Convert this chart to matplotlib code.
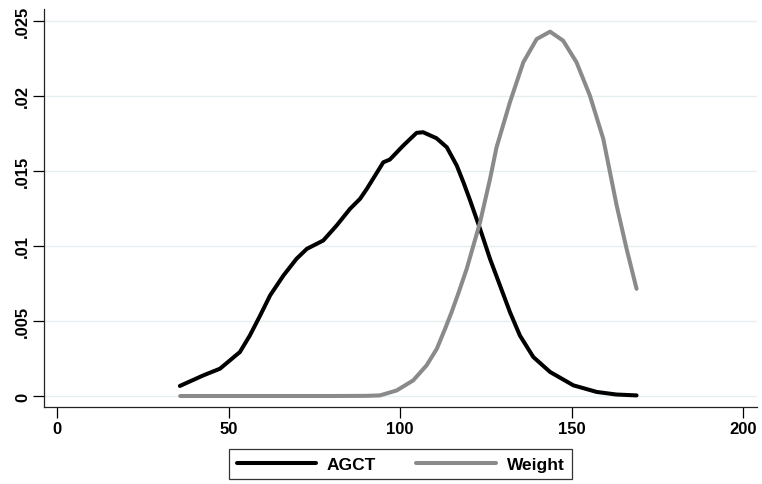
import matplotlib.pyplot as plt
import numpy as np

# kernel density estimates
agct_x = [35.8, 42.6, 47.5, 53.3, 56.2, 59.2, 62.1, 66.0, 69.8, 72.8, 77.6, 81.5, 85.4, 88.3,
          90.3, 95.1, 97.0, 100.9, 104.8, 106.7, 110.6, 113.6, 116.5, 118.5, 120.4, 123.3,
          126.2, 129.1, 132.0, 134.9, 138.8, 143.7, 150.5, 157.3, 163.0, 168.9]
agct_y = [0.00067, 0.00137, 0.00182, 0.00293, 0.00403, 0.00536, 0.0067, 0.00803, 0.00914,
          0.0098, 0.01036, 0.01136, 0.01247, 0.01313, 0.0138, 0.01557, 0.01575, 0.01668,
          0.01753, 0.01757, 0.01717, 0.01657, 0.01535, 0.0142, 0.01302, 0.01113, 0.00913,
          0.00736, 0.00559, 0.00403, 0.0026, 0.0016, 0.00071, 0.00027, 0.0001, 0.00004]

weight_x = [35.9, 60.0, 80.0, 90.0, 94.1, 99.0, 103.8, 107.7, 110.7, 113.1, 115.0, 116.9,
            119.4, 123.3, 126.2, 128.1, 132.0, 135.9, 139.8, 143.7, 147.5, 151.4, 155.3,
            159.2, 163.1, 166.0, 168.9]
weight_y = [0.0, 0.0, 0.0, 0.00001, 0.00004, 0.00037, 0.00104, 0.00204, 0.00315, 0.00448,
            0.00559, 0.0068, 0.00847, 0.01158, 0.01446, 0.01657, 0.01957, 0.02223, 0.02378,
            0.02427, 0.02367, 0.02223, 0.02001, 0.01713, 0.01269, 0.0098, 0.00714]

xticks = [0, 50, 100, 150, 200]
yticks = [0, 0.005, 0.01, 0.015, 0.02, 0.025]
ytick_labels = ["0", ".005", ".01", ".015", ".02", ".025"]

plt.rcParams["font.family"] = ["Liberation Sans", "DejaVu Sans"]
plt.rcParams["font.weight"] = "bold"

fig = plt.figure(figsize=(7.62, 4.85), dpi=100)
ax = fig.add_axes([44 / 762, 77 / 485, 713 / 762, 398 / 485])

ax.plot(agct_x, agct_y, color="black", lw=2.9, solid_capstyle="round",
        solid_joinstyle="round", label="AGCT", zorder=3)
ax.plot(weight_x, weight_y, color="#8a8a8a", lw=2.9, solid_capstyle="round",
        solid_joinstyle="round", label="Weight", zorder=3)

ax.set_xlim(-3.79, 204.0)
ax.set_ylim(-0.000732, 0.025779)
ax.set_xticks(xticks)
ax.set_xticklabels([str(t) for t in xticks])
ax.set_yticks(yticks)
ax.set_yticklabels(ytick_labels, rotation=90, va="center")

ax.grid(axis="y", color="#e6eef0", lw=1)
ax.set_axisbelow(True)
for s in ["top", "right"]:
    ax.spines[s].set_visible(False)
for s in ["left", "bottom"]:
    ax.spines[s].set_linewidth(0.9)
    ax.spines[s].set_color("#222222")
ax.tick_params(length=8, width=0.9, labelsize=12, pad=2)

leg = fig.legend(loc="center", bbox_to_anchor=(400.5 / 762, 20 / 485), ncol=2,
                 fontsize=12.5, handlelength=4.6, handletextpad=0.6, columnspacing=2.3,
                 frameon=True, fancybox=False, borderpad=0.45)
leg.get_frame().set_edgecolor("black")
leg.get_frame().set_linewidth(0.9)

plt.savefig("out.png", dpi=100)
